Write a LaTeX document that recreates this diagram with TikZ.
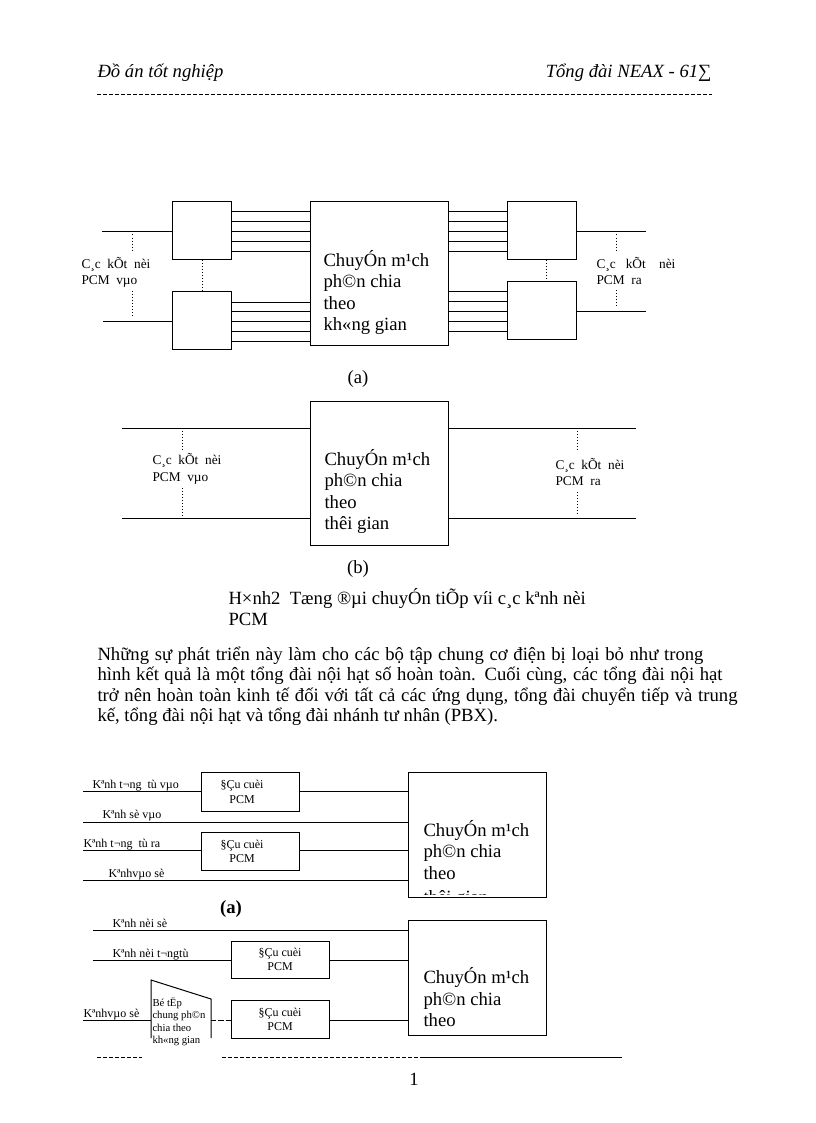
\documentclass[tikz,border=0pt]{standalone}
\usepackage{fontspec}
\setmainfont{Liberation Serif}
\tikzset{
  bx/.style={draw, inner sep=0pt, anchor=north west},
  tx/.style={inner sep=0pt, anchor=base west},
  txc/.style={inner sep=0pt, anchor=base},
  big/.style={font=\fontsize{14}{16}\selectfont},
  itl/.style={font=\fontsize{14}{16}\selectfont\itshape},
  bld/.style={font=\fontsize{14}{16}\selectfont\bfseries},
  sml/.style={font=\fontsize{10}{12}\selectfont},
  lbl/.style={font=\fontsize{9}{11}\selectfont},
  tny/.style={font=\fontsize{8}{9}\selectfont},
  dotl/.style={dash pattern=on 0.75pt off 1.5pt},
  hyl/.style={dash pattern=on 3pt off 1.5pt},
}
\begin{document}
\begin{tikzpicture}[x=0.75pt,y=-0.75pt, line width=0.75pt]
\useasboundingbox (0,0) rectangle (816,1123);

% ---------- header ----------
\node[tx, itl] (h1) at (97,78) {Đồ án tốt nghiệp};
\node[inner sep=0pt, anchor=base east, itl] (h2) at (712,78) {Tổng đài NEAX - 61∑};
\draw[hyl] (97,95) -- (712,95);

% ---------- upper figure (a) ----------
\node[bx, minimum width=44.25pt, minimum height=43.5pt] (L1) at (172,201) {};
\node[bx, minimum width=44.25pt, minimum height=43.5pt] (L2) at (172,291) {};
\node[bx, minimum width=103.5pt, minimum height=108pt] (C1) at (310,201) {};
\node[bx, minimum width=51.75pt, minimum height=43.5pt] (R1) at (507,201) {};
\node[bx, minimum width=51.75pt, minimum height=43.5pt] (R2) at (507,281) {};
\foreach \y in {212,221.8,231.6,241.4,251.2} {
  \draw (L1.east |- 0,\y) -- (C1.west |- 0,\y);
  \draw (C1.east |- 0,\y) -- (R1.west |- 0,\y);
}
\foreach \y in {302,311.9,321.8,331.7,341.6} {
  \draw (L2.east |- 0,\y) -- (C1.west |- 0,\y);
}
\foreach \y in {291,301,311,321,331} {
  \draw (C1.east |- 0,\y) -- (R2.west |- 0,\y);
}
\coordinate (ia1) at (102,231.5);
\coordinate (ia2) at (103,321.5);
\coordinate (oa1) at (646,231.5);
\coordinate (oa2) at (646,311);
\draw (ia1) -- (L1.west |- ia1);
\draw (ia2) -- (L2.west |- ia2);
\draw (R1.east |- oa1) -- (oa1);
\draw (R2.east |- oa2) -- (oa2);
\draw[dotl] (132,231.5) -- (132,251);
\draw[dotl] (132,291) -- (132,318);
\draw[dotl] (616,231.5) -- (616,251);
\draw[dotl] (616,290) -- (616,307);
\draw[dotl] (L1.south) -- (L2.north);
\draw[dotl] ([xshift=3pt]R1.south) -- ([xshift=3pt]R2.north);
\node[tx, sml] (ta1) at (81,268) {C¸c\ \ kÕt\ \ nèi};
\node[tx, sml] (ta2) at (81,284) {PCM\ \ vµo};
\node[tx, sml] (ta3) at (596,268) {C¸c\ \ \ kÕt\ \ \ \ nèi};
\node[tx, sml] (ta4) at (596,284) {PCM\ \ ra};
\node[tx, big] (ca1) at (323,266) {ChuyÓn m¹ch};
\node[tx, big] (ca2) at (323,287.5) {ph©n chia};
\node[tx, big] (ca3) at (323,309) {theo};
\node[tx, big] (ca4) at (323,330.5) {kh«ng gian};
\node[txc, big] (capa) at (358,383) {(a)};

% ---------- upper figure (b) ----------
\node[bx, minimum width=103.5pt, minimum height=108pt] (C2) at (310,401) {};
\coordinate (ib1) at (122,428);
\coordinate (ib2) at (122,518);
\coordinate (ob1) at (636,428);
\coordinate (ob2) at (636,518);
\draw (ib1) -- (C2.west |- ib1);
\draw (ib2) -- (C2.west |- ib2);
\draw (C2.east |- ob1) -- (ob1);
\draw (C2.east |- ob2) -- (ob2);
\draw[dotl] (182,428) -- (182,452);
\draw[dotl] (182,488) -- (182,516);
\draw[dotl] (577,428) -- (577,450);
\draw[dotl] (577,492) -- (577,516);
\node[tx, sml] (tb1) at (152,464.5) {C¸c\ \ kÕt\ \ nèi};
\node[tx, sml] (tb2) at (152,481) {PCM\ \ vµo};
\node[tx, sml] (tb3) at (555,469) {C¸c\ \ kÕt\ \ nèi};
\node[tx, sml] (tb4) at (555,485) {PCM\ \ ra};
\node[tx, big] (cb1) at (324,465) {ChuyÓn m¹ch};
\node[tx, big] (cb2) at (324,486.5) {ph©n chia};
\node[tx, big] (cb3) at (324,508) {theo};
\node[tx, big] (cb4) at (324,529.5) {thêi gian};
\node[txc, big] (capb) at (358,573) {(b)};

% ---------- caption ----------
\node[tx, big] (cap1) at (228,604) {H×nh2\ \ Tæng ®µi chuyÓn tiÕp víi c¸c kªnh nèi};
\node[tx, big] (cap2) at (228,625) {PCM};

% ---------- paragraph ----------
\node[tx, big] (p1) at (97,660) {\makebox[454.5pt][s]{Những sự phát triển này làm cho các bộ tập chung cơ điện bị loại bỏ như trong}};
\node[tx, big] (p2) at (97,680.5) {\makebox[468.75pt][s]{hình kết quả là một tổng đài nội hạt số hoàn toàn. Cuối cùng, các tổng đài nội hạt}};
\node[tx, big] (p3) at (97,701) {\makebox[480pt][s]{trở nên hoàn toàn kinh tế đối với tất cả các ứng dụng, tổng đài chuyển tiếp và trung}};
\node[tx, big] (p4) at (97,721.5) {kế, tổng đài nội hạt và tổng đài nhánh tư nhân (PBX).};

% ---------- lower figure (a) ----------
\node[bx, minimum width=73.5pt, minimum height=29.25pt] (T1) at (201,772) {};
\node[bx, minimum width=73.5pt, minimum height=28.5pt] (T2) at (201,832) {};
\node[bx, minimum width=103.5pt, minimum height=93.75pt] (C3) at (408,772) {};
\node[txc, lbl] (t1a) at (242,788) {§Çu cuèi};
\node[txc, lbl] (t1b) at (242,803) {PCM};
\node[txc, lbl] (t2a) at (242,848) {§Çu cuèi};
\node[txc, lbl] (t2b) at (242,862) {PCM};
\coordinate (ka1) at (83,791);
\coordinate (ka2) at (83,822);
\coordinate (ka3) at (83,850.5);
\coordinate (ka4) at (83,880);
\draw (ka1) -- (T1.west |- ka1);
\draw (T1.east |- ka1) -- (C3.west |- ka1);
\draw (ka2) -- (C3.west |- ka2);
\draw (ka3) -- (T2.west |- ka3);
\draw (T2.east |- ka3) -- (C3.west |- ka3);
\draw (ka4) -- (C3.west |- ka4);
\node[tx, lbl] (la1) at (92,788) {Kªnh t¬ng\ \ tù vµo};
\node[tx, lbl] (la2) at (102,818) {Kªnh sè vµo};
\node[tx, lbl] (la3) at (83,847.5) {Kªnh t¬ng\ \ tù ra};
\node[tx, lbl] (la4) at (108,877) {Kªnhvµo sè};
\begin{scope}
\clip (C3.north west) rectangle ([yshift=3pt]C3.south east);
\node[tx, big] (cc1) at (423,836.5) {ChuyÓn m¹ch};
\node[tx, big] (cc2) at (423,857.7) {ph©n chia};
\node[tx, big] (cc3) at (423,879) {theo};
\node[tx, big] (cc4) at (423,903.5) {thêi gian};
\end{scope}
\node[txc, bld] (capc) at (231,913) {(a)};

% ---------- lower figure (b) ----------
\node[bx, minimum width=73.5pt, minimum height=27.75pt] (T3) at (231,941) {};
\node[bx, minimum width=73.5pt, minimum height=28.5pt] (T4) at (231,1000) {};
\node[bx, minimum width=103.5pt, minimum height=86.25pt] (C4) at (408,920) {};
\node[txc, lbl] (t3a) at (280,956) {§Çu cuèi};
\node[txc, lbl] (t3b) at (280,970) {PCM};
\node[txc, lbl] (t4a) at (280,1016) {§Çu cuèi};
\node[txc, lbl] (t4b) at (280,1030) {PCM};
\coordinate (kb1) at (93,930);
\coordinate (kb2) at (93,960);
\coordinate (kb3) at (83,1020);
\draw (kb1) -- (C4.west |- kb1);
\draw (kb2) -- (T3.west |- kb2);
\draw (T3.east |- kb2) -- (C4.west |- kb2);
\draw (T4.east |- kb3) -- (C4.west |- kb3);
% trapezoid (concentrator)
\coordinate (zA) at (151,1038);
\coordinate (zB) at (151,980);
\coordinate (zC) at (211,999);
\coordinate (zD) at (211,1038);
\draw (zA) -- (zB) -- (zC) -- (zD);
\draw (kb3) -- (zB |- kb3);
\draw[dash pattern=on 4pt off 1.5pt] (zC |- kb3) -- (T4.west |- kb3);
\node[tx, tny] (z1) at (152,1006) {Bé tËp};
\node[tx, tny] (z2) at (152,1018.5) {chung ph©n};
\node[tx, tny] (z3) at (152,1031) {chia theo};
\node[tx, tny] (z4) at (152,1043) {kh«ng gian};
\node[tx, lbl] (lb1) at (112,927) {Kªnh nèi sè};
\node[tx, lbl] (lb2) at (112,957) {Kªnh nèi t¬ngtù};
\node[tx, lbl] (lb3) at (83,1017) {Kªnhvµo sè};
\node[tx, big] (cd1) at (423,983.5) {ChuyÓn m¹ch};
\node[tx, big] (cd2) at (423,1005) {ph©n chia};
\node[tx, big] (cd3) at (423,1026.5) {theo};

% ---------- footer ----------
\draw[hyl] (97,1057) -- (142,1057);
\draw[hyl] (222,1057) -- (422,1057);
\draw (422,1057) -- (622,1057);
\node[txc, big] (pg) at (414,1085) {1};
\end{tikzpicture}
\end{document}
